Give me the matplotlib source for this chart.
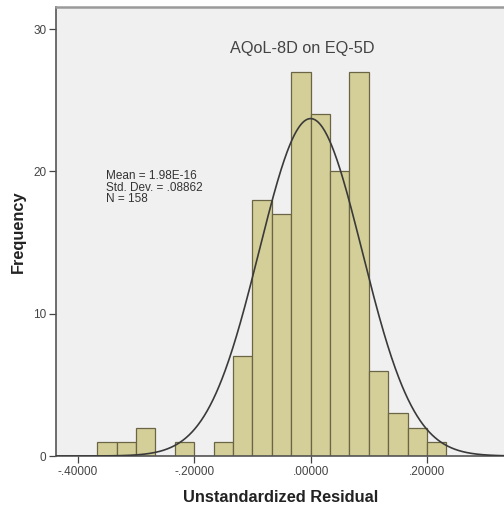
import numpy as np
import matplotlib
matplotlib.use("Agg")
import matplotlib.pyplot as plt

# ---- data ----
counts = [1, 1, 2, 0, 1, 0, 1, 7, 18, 17, 27, 24, 20, 27, 6, 3, 2, 1]
bin_start = -11 / 30.0
bin_width = 1 / 30.0
mean_val = 1.98e-16
std_val = 0.08862
n_val = 158
x_ticks = [-0.4, -0.2, 0.0, 0.2]
x_tick_labels = ["-.40000", "-.20000", ".00000", ".20000"]
y_ticks = [0, 10, 20, 30]
title_text = "AQoL-8D on EQ-5D"
stats_lines = ["Mean = 1.98E-16", "Std. Dev. = .08862", "N = 158"]

plt.rcParams['font.family'] = ['Liberation Sans', 'DejaVu Sans']

fig = plt.figure(figsize=(5.04, 5.11), dpi=100)
ax = fig.add_axes([56 / 504, 55 / 511, 1.0 - 56 / 504 + 0.002, (456 - 7) / 511])
ax.set_facecolor("#f0f0f0")

edges = bin_start + bin_width * np.arange(len(counts) + 1)
ax.bar(edges[:-1], counts, width=bin_width, align="edge",
       color="#d4cf98", edgecolor="#6a6544", linewidth=0.9, zorder=2)

xs = np.linspace(-0.4375, 0.34, 600)
ys = n_val * bin_width / (std_val * np.sqrt(2 * np.pi)) * np.exp(-0.5 * ((xs - mean_val) / std_val) ** 2)
ax.plot(xs, ys, color="#3a3a3a", linewidth=1.2, zorder=3)

ax.set_xlim(-0.4375, 0.334)
ax.set_ylim(0, 31.55)

ax.set_xticks(x_ticks)
ax.set_xticklabels(x_tick_labels, fontsize=8.5, color="#444444")
ax.set_yticks(y_ticks)
ax.set_yticklabels([str(v) for v in y_ticks], fontsize=8.5, color="#444444")
ax.tick_params(axis="both", direction="out", length=5, width=0.9, color="#444444", pad=2)

ax.spines["right"].set_visible(False)
ax.spines["top"].set_color("#9a9a9a")
ax.spines["top"].set_linewidth(1.8)
ax.spines["left"].set_color("#555555")
ax.spines["left"].set_linewidth(1.2)
ax.spines["bottom"].set_color("#555555")
ax.spines["bottom"].set_linewidth(1.2)

ax.set_xlabel("Unstandardized Residual", fontsize=11.8, fontweight="bold", color="#222222", labelpad=9)
ax.set_ylabel("Frequency", fontsize=11.8, fontweight="bold", color="#222222", labelpad=5)

ax.text((301.5 - 56) / (504 - 56), (456 - 48) / 449, title_text,
        transform=ax.transAxes, ha="center", va="center", fontsize=11.7, color="#444444")

ax.text((106 - 56) / 448, (456 - 170) / 449, "\n".join(stats_lines),
        transform=ax.transAxes, ha="left", va="top", fontsize=8.5, color="#333333",
        linespacing=0.95)

fig.savefig("out.png", dpi=100)
